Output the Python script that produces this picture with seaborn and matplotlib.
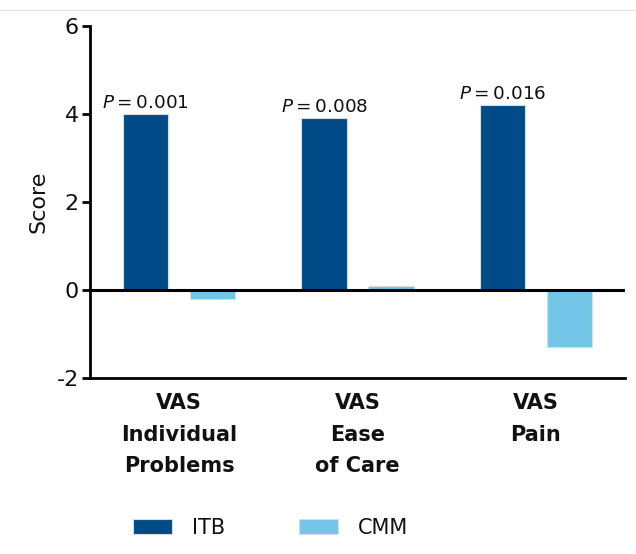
import matplotlib
matplotlib.use("Agg")
import matplotlib.pyplot as plt
import seaborn as sns
import pandas as pd
from matplotlib.lines import Line2D

categories = ["VAS\nIndividual\nProblems", "VAS\nEase\nof Care", "VAS\nPain"]
itb_values = [4.0, 3.9, 4.2]
cmm_values = [-0.2, 0.08, -1.3]
p_labels = ["0.001", "0.008", "0.016"]
groups = ["ITB", "CMM"]
colors = ["#004B87", "#74C6E8"]

sns.set_theme(style="white")
plt.rcParams["font.family"] = ["DejaVu Sans"]
plt.rcParams["mathtext.fontset"] = "dejavusans"

df = pd.DataFrame({
    "Category": categories * 2,
    "Score": itb_values + cmm_values,
    "Group": [groups[0]] * 3 + [groups[1]] * 3,
})

fig = plt.figure(figsize=(6.36, 5.54), dpi=100)
ax = fig.add_axes([0.1415, 0.318, 0.983 - 0.1415, 0.953 - 0.318])

sns.barplot(data=df, x="Category", y="Score", hue="Group", order=categories,
            hue_order=groups, palette=colors, saturation=1, width=0.75, gap=0.32,
            edgecolor="#d5dde4", linewidth=0.8, ax=ax, legend=True)

ax.set_xlim(-0.5, 2.5)
ax.set_ylim(-2, 6)
ax.set_yticks([-2, 0, 2, 4, 6])
ax.set_yticklabels(["-2", "0", "2", "4", "6"], fontsize=16, color="#111111")
ax.set_ylabel("Score", fontsize=16, labelpad=6, color="#111111")
ax.set_xlabel("")
ax.axhline(0, color="black", linewidth=2.2, zorder=5)

for s in ["top", "right"]:
    ax.spines[s].set_visible(False)
for s in ["left", "bottom"]:
    ax.spines[s].set_color("black")
    ax.spines[s].set_linewidth(2)

ax.tick_params(axis="y", direction="out", length=6, width=2, color="black", pad=2, left=True)
ax.tick_params(axis="x", length=0, pad=11)
ax.set_xticks(range(len(categories)))
ax.set_xticklabels(categories, fontsize=15, fontweight="bold", linespacing=1.72,
                   color="#111111")

# P-value annotations over ITB bars
itb_bars = ax.containers[0]
for bar, p in zip(itb_bars, p_labels):
    x = bar.get_x() + bar.get_width() / 2
    y = bar.get_height()
    ax.text(x, y + 0.14, "$P$\u2009=\u2009" + p, ha="center", va="baseline",
            fontsize=13.2, color="#111111")

# Legend at the bottom
handles, labels = ax.get_legend_handles_labels()
ax.get_legend().remove()
fig.legend(handles, labels, loc="center left", bbox_to_anchor=(0.209, 0.047),
           ncol=2, frameon=False, fontsize=15, handlelength=1.87, handleheight=0.72,
           columnspacing=3.55, handletextpad=0.96, borderaxespad=0, borderpad=0,
           labelcolor="#111111")

fig.add_artist(Line2D([0, 1], [1 - 10 / 554, 1 - 10 / 554], color="#e6e6e6",
                      linewidth=1, transform=fig.transFigure))

fig.savefig("out.png", dpi=100)
